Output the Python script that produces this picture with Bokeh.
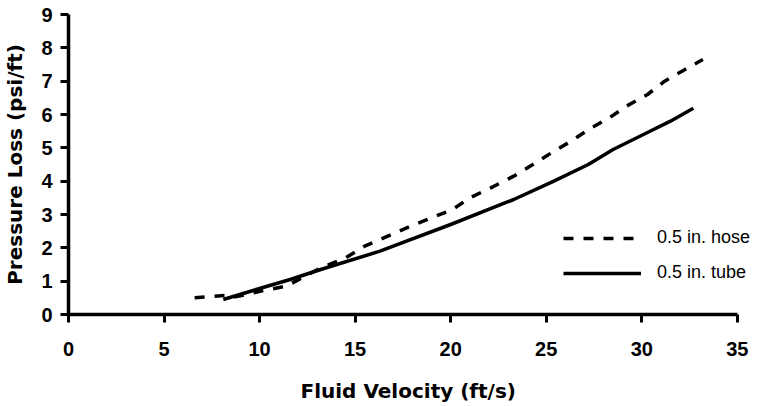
from bokeh.plotting import figure
from bokeh.models import Range1d, SingleIntervalTicker, Legend, LegendItem, Title
from bokeh.embed import file_html
from bokeh.resources import INLINE

hose_x = [6.6, 8.2, 8.5, 10.2, 11.4, 13.2, 14.5, 15.5, 17.9, 19.0, 20.1, 21.0, 22.1, 23.3, 24.3, 25.3, 26.3, 27.3, 28.3, 29.2, 30.3, 31.2, 32.2, 33.2]
hose_y = [0.5, 0.57, 0.5, 0.72, 0.85, 1.4, 1.7, 2.05, 2.65, 2.9, 3.15, 3.5, 3.8, 4.15, 4.5, 4.86, 5.2, 5.58, 5.9, 6.25, 6.6, 7.0, 7.33, 7.65]
tube_x = [8.1, 10.0, 11.6, 13.2, 16.3, 20.0, 23.3, 25.4, 27.2, 28.5, 30.3, 31.5, 32.7]
tube_y = [0.45, 0.78, 1.05, 1.35, 1.9, 2.7, 3.45, 4.0, 4.5, 4.95, 5.46, 5.8, 6.19]
series_labels = ["0.5 in. hose", "0.5 in. tube"]
x_title = "Fluid Velocity (ft/s)"
y_title = "Pressure Loss (psi/ft)"

p = figure(frame_width=686, frame_height=300, output_backend="svg", toolbar_location=None,
           x_range=Range1d(0, 35.9), y_range=Range1d(0, 9),
           min_border_left=60, min_border_right=0, min_border_top=14, min_border_bottom=40)
p.outline_line_color = None
p.grid.visible = False

FONT = "Liberation Sans"
TITLE_FONT = "DejaVu Sans"
for ax, interval in ((p.xaxis[0], 5), (p.yaxis[0], 1)):
    ax.ticker = SingleIntervalTicker(interval=interval)
    ax.minor_tick_line_color = None
    ax.major_tick_in = 0
    ax.major_tick_out = 8
    ax.axis_line_width = 3.5
    ax.major_tick_line_width = 3
    ax.axis_line_color = "black"
    ax.major_tick_line_color = "black"
    ax.major_label_text_font = FONT
    ax.major_label_text_font_style = "bold"
    ax.major_label_text_font_size = "20px"
    ax.major_label_text_color = "black"
    ax.axis_label_text_font = TITLE_FONT
    ax.axis_label_text_font_style = "bold"
    ax.axis_label_text_font_size = "20px"
    ax.axis_label_text_color = "black"

p.xaxis.bounds = (0, 35)
p.xaxis.major_label_standoff = 19
p.yaxis.axis_label = y_title
p.yaxis.major_label_standoff = 8
p.yaxis.axis_label_standoff = 11

xt = Title(text=x_title, align="left", offset=232, standoff=36,
           text_font=TITLE_FONT, text_font_style="bold", text_font_size="20px", text_color="black")
p.add_layout(xt, "below")

r_hose = p.line(hose_x, hose_y, line_color="black", line_width=3.5, line_dash="10 10")
r_tube = p.line(tube_x, tube_y, line_color="black", line_width=3.5)

legend = Legend(items=[LegendItem(label=series_labels[0], renderers=[r_hose]),
                       LegendItem(label=series_labels[1], renderers=[r_tube])],
                location=(495, 31), glyph_width=78, glyph_height=20, label_height=20,
                label_width=100, spacing=14, padding=0, margin=0, label_standoff=16,
                border_line_color=None, background_fill_alpha=0,
                label_text_font=FONT, label_text_font_size="18px", label_text_color="black")
p.add_layout(legend)

open("out.html", "w").write(file_html(p, INLINE))
